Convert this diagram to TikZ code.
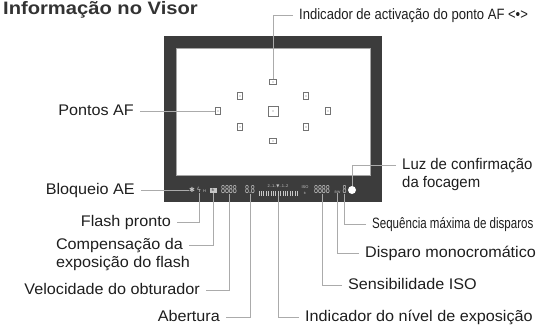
\documentclass[tikz,border=0pt]{standalone}
\usepackage{fontspec}
\setmainfont{Liberation Sans}
\newfontfamily\lblfont[FakeStretch=1.05]{Liberation Sans}
\newfontfamily\focusfont[FakeStretch=0.97]{Liberation Sans}
\newfontfamily\titlefont[FakeStretch=1.12]{Liberation Sans}
\newfontfamily\narrowfont[FakeStretch=0.87]{Liberation Sans}
\newfontfamily\narrowerfont[FakeStretch=0.77]{Liberation Sans}
\newfontfamily\segfont[FakeStretch=0.62]{Liberation Sans}
\newfontfamily\symfont{DejaVu Sans}
\usetikzlibrary{positioning}
\definecolor{framegray}{HTML}{3C3C3C}
\definecolor{inkgray}{HTML}{1E1E1E}
\definecolor{titlegray}{HTML}{333333}
\tikzstyle{lbl} = [font=\lblfont\fontsize{15.4}{18}\selectfont, text=inkgray, inner xsep=6pt, inner ysep=0pt, text height=11pt, text depth=3pt]
\tikzstyle{lblleft} = [lbl, anchor=east]
\tikzstyle{lblright} = [lbl, anchor=west]
\tikzstyle{leader} = [draw=black!33, line width=1pt]
\tikzstyle{afpoint} = [rectangle, draw=black!55, line width=0.8pt, inner sep=0pt, minimum width=5pt, minimum height=7pt, path picture={\fill[black!55] (path picture bounding box.center) circle (0.6pt);}]
\tikzstyle{afwide} = [afpoint, minimum width=7.5pt, minimum height=5pt]
\tikzstyle{afcenter} = [afpoint, minimum width=10pt, minimum height=10pt]
\tikzstyle{seg} = [font=\segfont\fontsize{11.5}{11.5}\selectfont, text=black!22, inner sep=0pt]
\tikzstyle{mini} = [font=\fontsize{4}{5.5}\selectfont, text=black!22, inner sep=0pt, align=center]
\tikzstyle{scaletick} = [draw=black!22, line width=0.7pt]

\begin{document}
\begin{tikzpicture}[x=1pt, y=-1pt]
    \useasboundingbox (0,0) rectangle (539,327);

    % viewfinder frame
    \fill[framegray] (164,36) rectangle (382,202);
    \fill[white] (176,48) rectangle (370,175);
    \draw[black!35, line width=0.8pt] (176,48) rectangle (370,175);

    \node (title) [anchor=base west, font=\titlefont\fontsize{18}{20}\selectfont\bfseries, text=titlegray, inner sep=0pt] at (3,14) {Informação no Visor};

    % AF points
    \node (afT) [afwide] at (273,82) {};
    \node (afUL) [afpoint] at (240,96) {};
    \node (afUR) [afpoint] at (306,96) {};
    \node (afL) [afpoint] at (218,111) {};
    \node (afC) [afcenter] at (273,111) {};
    \node (afR) [afpoint] at (328,111) {};
    \node (afLL) [afpoint] at (240,127) {};
    \node (afLR) [afpoint] at (306,127) {};
    \node (afB) [afwide] at (273,141) {};

    % display strip under the frame
    \node (aelock) [mini, font=\symfont\fontsize{7}{7}\selectfont] at (192,190) {✱};
    \node (flash) [mini, font=\symfont\fontsize{7}{7}\selectfont] at (199,190) {ϟ};
    \node (flashH) [mini, font=\fontsize{4}{4}\selectfont] at (204.5,191) {H};
    \node (fec) [fill=black!22, text=framegray, font=\fontsize{5}{5}\selectfont, inner sep=0.6pt, minimum width=7pt, minimum height=5pt] at (213,190) {±};
    \node (shutter) [seg] at (229,190) {8888};
    \node (aperture) [seg] at (250,190) {8.8};
    \node (expo) [inner sep=0pt, minimum width=40pt, minimum height=12pt] at (278,190) {};
    \node (expoScale) [mini] at (278,186) {2..1..{\symfont ▼}..1..2};
    \foreach \i in {0,...,16}
        \draw[scaletick] (259+\i*2.4,191) -- (259+\i*2.4,196);
    \node (isoIcon) [mini] at (305,190) {ISO\\±};
    \node (iso) [seg] at (322,190) {8888};
    \node (bw) [mini, font=\fontsize{3.5}{3.5}\selectfont] at (337.5,192) {BW};
    \node (burst) [seg] at (344.5,190) {8};
    \node (focusDot) [circle, fill=white, inner sep=0pt, minimum size=8pt] at (352,190) {};

    % labels
    \node (lblActiv) [lblright, font=\narrowfont\fontsize{15}{17}\selectfont] at (293,15) {Indicador de activação do ponto AF <•>};
    \node (lblAF) [lblleft] at (140,111) {Pontos AF};
    \node (lblAE) [lblleft] at (141,190) {Bloqueio AE};
    \node (lblFlash) [lblleft] at (177,222) {Flash pronto};
    \node (lblFEC) [lblleft] at (189,245) {Compensação da};
    \node (lblFECb) [lbl, anchor=base west] at ([yshift=-18pt]lblFEC.base west) {exposição do flash};
    \node (lblShutter) [lblleft] at (206,290) {Velocidade do obturador};
    \node (lblAperture) [lblleft] at (226,317) {Abertura};
    \node (lblExpo) [lblright] at (299,317) {Indicador do nível de exposição};
    \node (lblISO) [lblright] at (342,285) {Sensibilidade ISO};
    \node (lblMono) [lblright] at (359,253) {Disparo monocromático};
    \node (lblBurst) [lblright, font=\narrowerfont\fontsize{15}{17}\selectfont] at (366,224) {Sequência máxima de disparos};
    \node (lblFocus) [lblright, font=\focusfont\fontsize{15.4}{18}\selectfont] at (396,165) {Luz de confirmação};
    \node (lblFocusb) [lbl, anchor=base west, font=\focusfont\fontsize{15.4}{18}\selectfont] at ([yshift=-18pt]lblFocus.base west) {da focagem};

    % leaders
    \draw [leader] (lblActiv.west) -| (afT.north);
    \draw [leader] (lblAF.east) -- (afL.west);
    \draw [leader] (lblAE.east) -- (aelock.west);
    \draw [leader] (lblFlash.east) -| (flash.south);
    \draw [leader] (lblFEC.east) -| (fec.south);
    \draw [leader] (lblShutter.east) -| (shutter.south);
    \draw [leader] (lblAperture.east) -| (aperture.south);
    \draw [leader] (lblExpo.west) -| (expo.south);
    \draw [leader] (lblISO.west) -| (iso.south);
    \draw [leader] (lblMono.west) -| (bw.south);
    \draw [leader] (lblBurst.west) -| (burst.south);
    \draw [leader] (lblFocus.west) -| (focusDot.north);

\end{tikzpicture}
\end{document}
